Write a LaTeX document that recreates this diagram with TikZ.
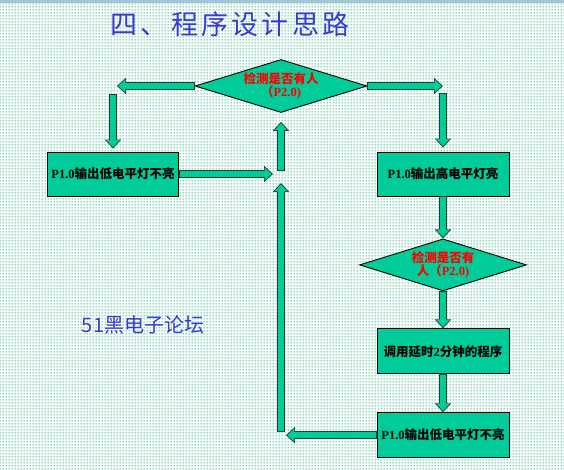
\documentclass[tikz,border=0pt]{standalone}
\usepackage{fontspec}
\setmainfont{Liberation Serif}
\newfontfamily\cjk{Noto Sans CJK SC}
\newfontfamily\cjktitle{Noto Sans CJK SC}[LetterSpace=12]
\usetikzlibrary{arrows.meta,positioning,shapes.geometric,patterns}
\definecolor{flowgreen}{HTML}{00CC99}
\definecolor{dotgreen}{HTML}{00A868}
\definecolor{titleblue}{HTML}{3A3AD0}
\definecolor{barblue}{HTML}{A3C4D6}
\definecolor{edge}{HTML}{1F3D33}
\newcommand{\zh}[1]{{\cjk #1}}
\pgfdeclarepatternformonly{sqdots}{\pgfqpoint{0pt}{0pt}}{\pgfqpoint{3pt}{3pt}}{\pgfqpoint{3pt}{3pt}}{%
  \pgfpathrectangle{\pgfqpoint{0.9pt}{0.9pt}}{\pgfqpoint{1.2pt}{1.2pt}}\pgfusepath{fill}}

\begin{document}
\begin{tikzpicture}[x=1pt, y=-1pt,
  node distance=38pt,
  box/.style={rectangle, draw=black, line width=0.9pt, fill=flowgreen, minimum width=132pt, minimum height=44pt, align=center, font=\fontsize{12.5}{14}\selectfont\bfseries},
  dia/.style={diamond, aspect=3.25, draw=black, line width=0.9pt, fill=flowgreen, inner sep=0pt, minimum width=172pt, minimum height=53pt, align=center, text=red, font=\fontsize{12.5}{13}\selectfont\bfseries},
  flow/.style={line width=6pt, draw=flowgreen, shorten <=1pt, shorten >=#1+1.3pt, -{Triangle[length=7pt, width=13pt, line width=0pt]},
    preaction={draw=edge, line width=8pt, shorten <=0pt, shorten >=#1, -{Triangle[length=9pt, width=16.5pt, line width=0pt]}}},
  flow/.default=0pt
]
\useasboundingbox (0,0) rectangle (564,470);
\fill[white] (0,0) rectangle (564,470);
\fill[pattern=sqdots, pattern color=dotgreen] (0,0) rectangle (564,470);
\fill[barblue] (0,0) rectangle (564,3);

\node[text=titleblue, font=\fontsize{27}{30}\selectfont] (title) at (230,24) {{\cjktitle 四、程序设计思路}};
\node[text=titleblue, font=\fontsize{20}{22}\selectfont] (forum) at (143,325) {\zh{51黑电子论坛}};

\node[dia] (d1) at (281,86) {\zh{检测是否有人}\\\zh{（}P2.0)};
\node[box, minimum width=131pt] (b1) at (113,174) {P1.0\zh{输出低电平灯不亮}};
\node[box] (b2) at (443,174) {P1.0\zh{输出高电平灯亮}};
\node[dia, aspect=3.2, minimum width=167pt, minimum height=52pt, below=42pt of b2] (d2) {\zh{检测是否有}\\\zh{人（}P2.0)};
\node[box, minimum height=45pt, below=37pt of d2] (b3) {\zh{调用延时}2\zh{分钟的程序}};
\node[box, minimum height=45pt, below=38pt of b3] (b4) {P1.0\zh{输出低电平灯不亮}};

\coordinate (lh) at (117,86);
\coordinate (lv) at (113,94);
\coordinate (rh) at (443,86);
\coordinate (rv) at (443,93);
\coordinate (mh) at (273,174);
\coordinate (ms) at (281,171);
\coordinate (bv) at (281,432);
\coordinate (bh) at (b4.west -| 286,0);
\coordinate (bt) at (281,183);

\draw[flow] (d1.west) -- (lh);
\draw[flow=3pt] (lv) -- (b1.north);
\draw[flow] (d1.east) -- (rh);
\draw[flow=4pt] (rv) -- (b2.north);
\draw[flow] (b1.east) -- (mh);
\draw[flow=9pt] (ms) -- (d1.south);
\draw[flow] (b2.south) -- (d2.north);
\draw[flow] (d2.south) -- (b3.north);
\draw[flow] (b3.south) -- (b4.north);
\draw[flow] (b4.west) -- (bh);
\draw[flow] (bv) -- (bt);
\end{tikzpicture}
\end{document}
